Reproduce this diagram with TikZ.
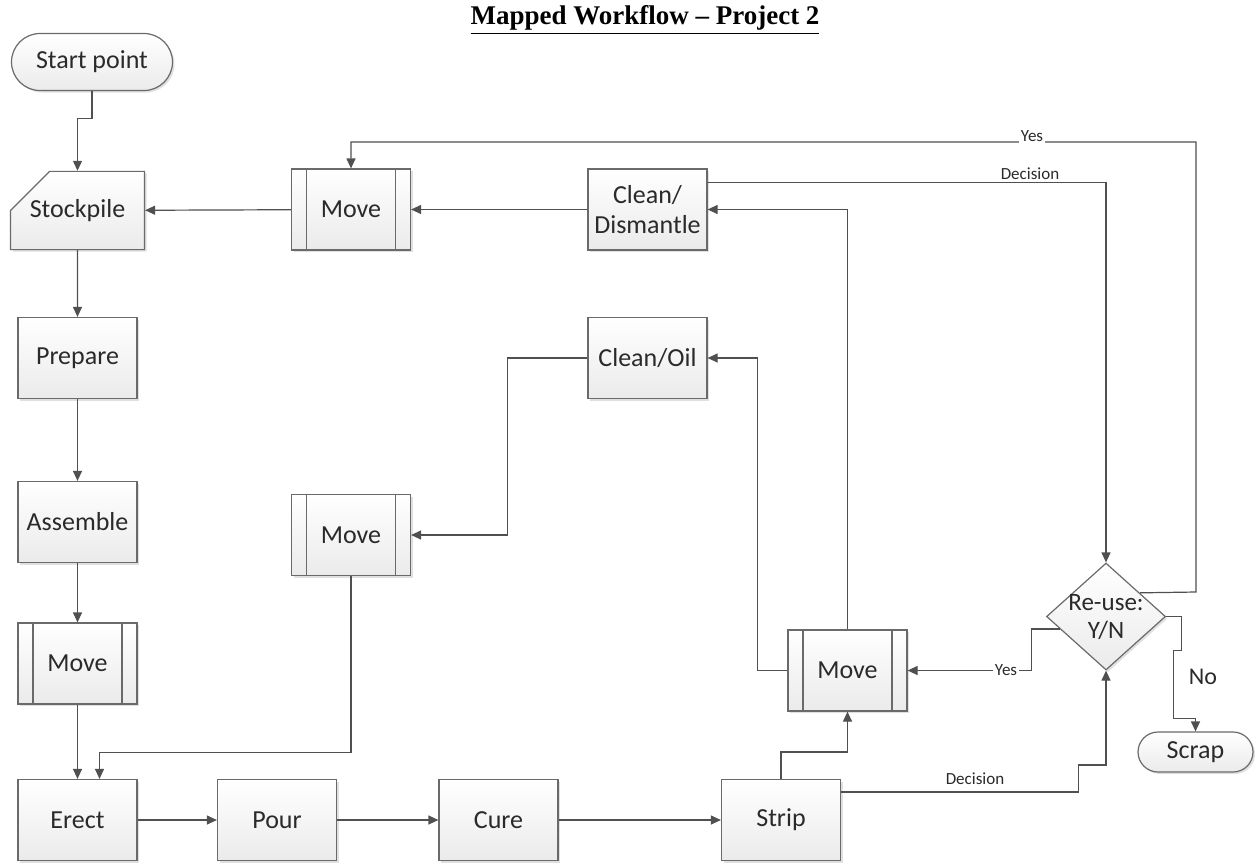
\documentclass[tikz,border=0pt]{standalone}
\usepackage{fontspec}
\setmainfont{Carlito}
\newfontfamily\titlefont{Liberation Serif}
\usetikzlibrary{arrows.meta,shapes.geometric,shapes.misc,shadows}
\definecolor{boxline}{HTML}{6A6A6A}
\definecolor{wire}{HTML}{505050}
\definecolor{ink}{HTML}{2A2A2A}
\tikzstyle{stepbox}=[rectangle, draw=boxline, line width=0.6pt, top color=white, bottom color=black!8,
  minimum width=59.5pt, minimum height=40.5pt, inner sep=1pt, align=center, text=ink,
  font=\fontsize{13}{15}\selectfont,
  drop shadow={shadow xshift=1pt, shadow yshift=-1pt, fill=black, opacity=.12}]
\tikzstyle{movebox}=[stepbox, path picture={
  \draw[boxline, line width=0.6pt]
    ([xshift=7.5pt]path picture bounding box.north west) -- ([xshift=7.5pt]path picture bounding box.south west)
    ([xshift=-7.5pt]path picture bounding box.north east) -- ([xshift=-7.5pt]path picture bounding box.south east);}]
\tikzstyle{pile}=[stepbox, chamfered rectangle, chamfered rectangle corners=north west,
  chamfered rectangle xsep=15pt, chamfered rectangle ysep=13pt, minimum width=67pt, minimum height=34.5pt]
\tikzstyle{term}=[stepbox, rounded rectangle, minimum width=82.5pt, minimum height=28.5pt]
\tikzstyle{choice}=[stepbox, diamond, aspect=1.11, minimum width=59.5pt, minimum height=53.5pt, inner sep=-1pt,
  font=\fontsize{12.5}{14}\selectfont]
\tikzstyle{tag}=[text=ink, font=\fontsize{8.5}{10}\selectfont, inner sep=1pt]
\tikzstyle{link}=[draw=wire, line width=0.6pt, -{Triangle[length=5pt,width=4.5pt]}]
\newcommand{\stepbox}{\node[stepbox]}
\newcommand{\movebox}{\node[movebox]}

\begin{document}
\begin{tikzpicture}[x=0.5pt, y=-0.5pt
  ,every edge/.style={link}
]
\useasboundingbox (0,0) rectangle (1257,863);
\node (title) at (645,20) {\titlefont\bfseries\fontsize{13.5}{15}\selectfont\underline{Mapped Workflow – Project 2}};

% left column
\node[term] (start) at (92,62) {Start point};
\node[pile] (stock) at (77.5,210.5) {Stockpile};
\stepbox (prep) at (77.5,358) {Prepare};
\stepbox (asm) at (77.5,522) {Assemble};
\movebox (mvleft) at (77.5,663.5) {Move};

% bottom row
\stepbox (erect) at (77.5,820) {Erect};
\stepbox (pour) at (277,820) {Pour};
\stepbox (cure) at (498.5,820) {Cure};
\stepbox (strip) at (781,820) {Strip};

% return loops
\movebox (mvmid) at (351,535) {Move};
\stepbox (coil) at (647.5,358) {Clean/Oil};
\stepbox (cdis) at (647.5,209.5) {Clean/\\Dismantle};
\movebox (mvtop) at (351,209.5) {Move};
\movebox (mvright) at (847.5,670.5) {Move};
\node[choice] (reuse) at (1106,616.5) {Re-use:\\Y/N};
\node[term, minimum width=59.5pt, minimum height=20pt] (scrap) at (1195.5,752) {Scrap};

\path
(stock) edge (prep)
(prep) edge (asm)
(asm) edge (mvleft)
(mvleft) edge (erect)
(erect) edge (pour)
(pour) edge (cure)
(cure) edge (strip)
(cdis) edge (mvtop)
(mvtop) edge (stock)
;
\draw[link] (start.south) -- ++(0,27) -| (stock.north);
\draw[link] (strip.north) -- ++(0,-27) -| (mvright.south);
\draw[link] (mvright.north) |- (cdis.east);
\draw[link] (mvright.west) -- ++(-30,0) |- (coil.east);
\draw[link] (coil.west) -- ++(-80,0) |- (mvmid.east);
\draw[link] (mvmid.south) -- ++(0,176) -| ([xshift=11pt]erect.north);
\draw[link] ([yshift=13.5pt]cdis.east) -| (reuse.north);
\draw[link] ([yshift=14pt]strip.east) -- ++(237,0) -- ++(0,-27) -| (reuse.south);
\draw[link] (reuse.35) -- (1196,592) -- (1196,142) -| (mvtop.north);
\draw[link] (reuse.195) -- ++(-28,0) |- (mvright.east);
\draw[link] (reuse.east) -- ++(15,0) -- ++(0,34) -- ++(-8,0) -- ++(0,68) -| (scrap.north);

% connector labels
\node[tag, fill=white] (yestop) at (1032,136) {Yes};
\node[tag] (dectop) at (1030,174) {Decision};
\node[tag, fill=white] (yesmid) at (1006,670) {Yes};
\node[tag] (decbot) at (975,779) {Decision};
\node[text=ink, font=\fontsize{12}{14}\selectfont] (no) at (1203,677) {No};
\end{tikzpicture}
\end{document}
